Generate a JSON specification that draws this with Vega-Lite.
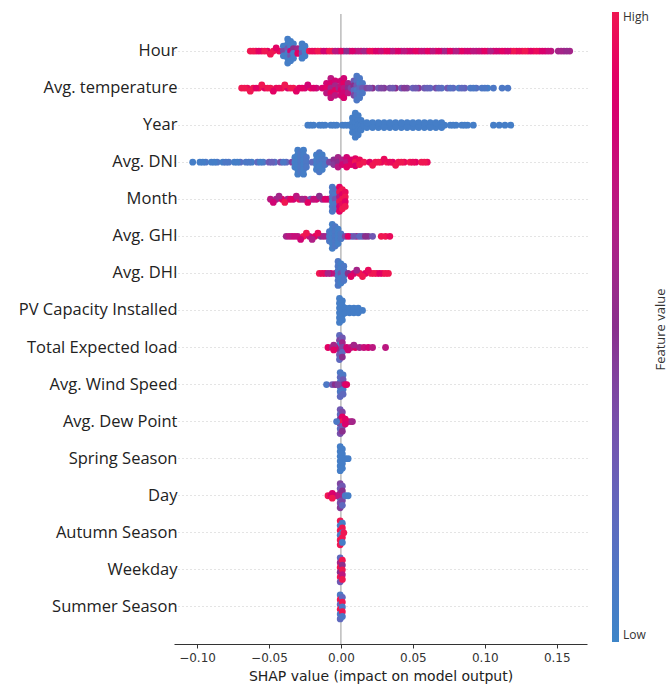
{
"$schema": "https://vega.github.io/schema/vega-lite/v6.json",
"width": 413, "height": 630,
"autosize": {"type": "none"},
"padding": {"left": 174, "top": 14, "right": 84, "bottom": 43},
"background": "white",
"config": {"view": {"stroke": null}},
"resolve": {"scale": {"y": "independent"}, "axis": {"y": "independent"}},
"encoding": {
  "x": {"field": "x", "type": "quantitative",
    "scale": {"domain": [-0.116, 0.171], "nice": false, "zero": false},
    "axis": {"values": [-0.1, -0.05, 0, 0.05, 0.1, 0.15], "format": ".2f", "labelExpr": "replace(datum.label, '-', '−')",
      "title": "SHAP value (impact on model output)", "grid": false, "domainColor": "#333", "tickColor": "#333", "tickSize": 4,
      "labelColor": "#333", "labelFont": "DejaVu Sans", "labelFontSize": 12, "labelPadding": 4,
      "titleFont": "DejaVu Sans", "titleFontSize": 14, "titleFontWeight": "normal", "titleColor": "#222", "titlePadding": 6}}
},
"layer": [
{"data": {"values": [{"x": 0}]}, "mark": {"type": "rule", "color": "#999", "strokeWidth": 1}, "encoding": {}},
{"data": {"values": [
{"f":0,"x":-0.063,"v":1,"s":0},{"f":0,"x":-0.059,"v":0.95,"s":0},{"f":0,"x":-0.055,"v":1,"s":0},{"f":0,"x":-0.051,"v":0.9,"s":0},{"f":0,"x":-0.047,"v":1,"s":0},{"f":0,"x":-0.043,"v":0.95,"s":0},{"f":0,"x":-0.049,"v":1,"s":1.3},{"f":0,"x":-0.045,"v":0.9,"s":-1.3},
{"f":0,"x":-0.061,"v":1,"s":0},{"f":0,"x":-0.057,"v":0.9,"s":0},{"f":0,"x":-0.053,"v":1,"s":0},
{"f":0,"x":-0.040,"v":0.05,"s":-2},{"f":0,"x":-0.040,"v":0.4,"s":0},{"f":0,"x":-0.040,"v":0.05,"s":2},
{"f":0,"x":-0.037,"v":0.05,"s":-5},{"f":0,"x":-0.037,"v":0.05,"s":-3},{"f":0,"x":-0.037,"v":0.3,"s":-1},{"f":0,"x":-0.037,"v":0.05,"s":1},{"f":0,"x":-0.037,"v":0.05,"s":3},{"f":0,"x":-0.037,"v":0.05,"s":5},
{"f":0,"x":-0.035,"v":0.05,"s":-4},{"f":0,"x":-0.035,"v":0.05,"s":-2},{"f":0,"x":-0.035,"v":0.8,"s":0},{"f":0,"x":-0.035,"v":0.3,"s":2},{"f":0,"x":-0.035,"v":0.05,"s":4},
{"f":0,"x":-0.033,"v":0.05,"s":-3},{"f":0,"x":-0.033,"v":0.5,"s":-1},{"f":0,"x":-0.033,"v":0.05,"s":1},{"f":0,"x":-0.033,"v":0.05,"s":3},
{"f":0,"x":-0.030,"v":0.6,"s":-1},{"f":0,"x":-0.030,"v":0.9,"s":1},
{"f":0,"x":-0.027,"v":0.05,"s":-3},{"f":0,"x":-0.027,"v":0.05,"s":-1},{"f":0,"x":-0.027,"v":0.3,"s":1},{"f":0,"x":-0.027,"v":0.05,"s":3},
{"f":0,"x":-0.025,"v":0.05,"s":-2},{"f":0,"x":-0.025,"v":0.05,"s":0},{"f":0,"x":-0.025,"v":0.05,"s":2},
{"f":0,"x":-0.022,"v":1,"s":0},{"f":0,"x":-0.018,"v":0.9,"s":0},{"f":0,"x":-0.014,"v":1,"s":0},{"f":0,"x":-0.010,"v":0.85,"s":0},{"f":0,"x":-0.006,"v":1,"s":0},{"f":0,"x":-0.002,"v":0.6,"s":0},{"f":0,"x":0.002,"v":0.45,"s":0},{"f":0,"x":0.006,"v":0.8,"s":0},{"f":0,"x":0.010,"v":0.55,"s":0},{"f":0,"x":0.014,"v":0.9,"s":0},{"f":0,"x":0.018,"v":0.7,"s":0},{"f":0,"x":0.022,"v":1,"s":0},{"f":0,"x":0.026,"v":0.9,"s":0},{"f":0,"x":0.030,"v":1,"s":0},{"f":0,"x":0.034,"v":0.8,"s":0},{"f":0,"x":0.038,"v":0.95,"s":0},{"f":0,"x":0.042,"v":0.6,"s":0},{"f":0,"x":0.046,"v":0.9,"s":0},{"f":0,"x":0.050,"v":0.65,"s":0},{"f":0,"x":0.054,"v":0.85,"s":0},{"f":0,"x":0.058,"v":0.6,"s":0},{"f":0,"x":0.062,"v":0.8,"s":0},{"f":0,"x":0.066,"v":0.95,"s":0},{"f":0,"x":0.070,"v":0.7,"s":0},{"f":0,"x":0.074,"v":0.85,"s":0},{"f":0,"x":0.078,"v":0.6,"s":0},{"f":0,"x":0.082,"v":0.8,"s":0},{"f":0,"x":0.086,"v":0.7,"s":0},{"f":0,"x":0.090,"v":0.9,"s":0},{"f":0,"x":0.094,"v":0.65,"s":0},{"f":0,"x":0.098,"v":0.85,"s":0},{"f":0,"x":0.102,"v":0.7,"s":0},{"f":0,"x":0.106,"v":0.9,"s":0},{"f":0,"x":0.110,"v":0.65,"s":0},{"f":0,"x":0.114,"v":0.85,"s":0},{"f":0,"x":0.118,"v":0.95,"s":0},{"f":0,"x":0.122,"v":0.9,"s":0},{"f":0,"x":0.126,"v":1,"s":0},{"f":0,"x":0.130,"v":0.95,"s":0},{"f":0,"x":0.134,"v":1,"s":0},{"f":0,"x":0.138,"v":0.9,"s":0},{"f":0,"x":0.142,"v":0.8,"s":0},{"f":0,"x":0.146,"v":0.7,"s":0},{"f":0,"x":0.151,"v":0.6,"s":0},{"f":0,"x":0.155,"v":0.55,"s":0},{"f":0,"x":0.159,"v":0.6,"s":0},
{"f":0,"x":0.000,"v":0.9,"s":0},{"f":0,"x":0.012,"v":0.7,"s":0},{"f":0,"x":0.024,"v":0.85,"s":0},{"f":0,"x":0.036,"v":0.7,"s":0},{"f":0,"x":0.048,"v":0.8,"s":0},{"f":0,"x":0.060,"v":0.9,"s":0},{"f":0,"x":0.072,"v":0.6,"s":0},{"f":0,"x":0.084,"v":0.9,"s":0},{"f":0,"x":0.096,"v":0.75,"s":0},{"f":0,"x":0.108,"v":0.8,"s":0},{"f":0,"x":0.120,"v":1,"s":0},{"f":0,"x":0.132,"v":0.9,"s":0},{"f":0,"x":0.144,"v":0.75,"s":0},
{"f":0,"x":-0.020,"v":0.95,"s":0},{"f":0,"x":-0.016,"v":1,"s":0},{"f":0,"x":-0.012,"v":0.8,"s":0},{"f":0,"x":-0.008,"v":1,"s":0},{"f":0,"x":-0.004,"v":0.7,"s":0},{"f":0,"x":0.004,"v":0.5,"s":0},{"f":0,"x":0.008,"v":0.85,"s":0},{"f":0,"x":0.016,"v":0.6,"s":0},{"f":0,"x":0.020,"v":0.95,"s":0},{"f":0,"x":0.028,"v":0.75,"s":0},{"f":0,"x":0.032,"v":0.9,"s":0},{"f":0,"x":0.040,"v":0.85,"s":0},{"f":0,"x":0.044,"v":0.7,"s":0},{"f":0,"x":0.052,"v":0.9,"s":0},{"f":0,"x":0.056,"v":0.75,"s":0},{"f":0,"x":0.064,"v":0.7,"s":0},{"f":0,"x":0.068,"v":0.85,"s":0},{"f":0,"x":0.076,"v":0.9,"s":0},{"f":0,"x":0.080,"v":0.65,"s":0},{"f":0,"x":0.088,"v":0.8,"s":0},{"f":0,"x":0.092,"v":0.7,"s":0},{"f":0,"x":0.100,"v":0.9,"s":0},{"f":0,"x":0.104,"v":0.65,"s":0},{"f":0,"x":0.112,"v":0.9,"s":0},{"f":0,"x":0.116,"v":0.8,"s":0},{"f":0,"x":0.124,"v":0.95,"s":0},{"f":0,"x":0.128,"v":1,"s":0},{"f":0,"x":0.136,"v":0.95,"s":0},{"f":0,"x":0.140,"v":0.85,"s":0},{"f":0,"x":0.153,"v":0.6,"s":0},{"f":0,"x":0.157,"v":0.55,"s":0},

{"f":1,"x":-0.069,"v":1,"s":0},{"f":1,"x":-0.065,"v":0.95,"s":0},{"f":1,"x":-0.061,"v":1,"s":0},{"f":1,"x":-0.057,"v":1,"s":0},{"f":1,"x":-0.053,"v":0.9,"s":0},{"f":1,"x":-0.049,"v":1,"s":0},{"f":1,"x":-0.045,"v":0.95,"s":0},{"f":1,"x":-0.041,"v":1,"s":0},{"f":1,"x":-0.037,"v":0.85,"s":0},{"f":1,"x":-0.033,"v":1,"s":0},{"f":1,"x":-0.029,"v":0.9,"s":0},{"f":1,"x":-0.025,"v":0.8,"s":0},{"f":1,"x":-0.021,"v":0.95,"s":0},{"f":1,"x":-0.017,"v":0.75,"s":0},{"f":1,"x":-0.013,"v":0.85,"s":0},
{"f":1,"x":-0.063,"v":1,"s":1.3},{"f":1,"x":-0.055,"v":1,"s":-1.3},{"f":1,"x":-0.047,"v":0.9,"s":1.3},{"f":1,"x":-0.039,"v":1,"s":-1.3},{"f":1,"x":-0.031,"v":0.9,"s":1.3},{"f":1,"x":-0.023,"v":0.8,"s":-1.3},
{"f":1,"x":-0.010,"v":0.8,"s":-2},{"f":1,"x":-0.010,"v":0.9,"s":0},{"f":1,"x":-0.010,"v":0.7,"s":2},
{"f":1,"x":-0.007,"v":0.7,"s":-4},{"f":1,"x":-0.007,"v":0.85,"s":-2},{"f":1,"x":-0.007,"v":0.6,"s":0},{"f":1,"x":-0.007,"v":0.9,"s":2},{"f":1,"x":-0.007,"v":0.75,"s":4},
{"f":1,"x":-0.004,"v":0.8,"s":-3},{"f":1,"x":-0.004,"v":0.6,"s":-1},{"f":1,"x":-0.004,"v":0.9,"s":1},{"f":1,"x":-0.004,"v":0.7,"s":3},
{"f":1,"x":-0.0015,"v":0.6,"s":0},
{"f":1,"x":0.000,"v":0.8,"s":-3},{"f":1,"x":0.000,"v":0.75,"s":-1},{"f":1,"x":0.000,"v":0.85,"s":1},{"f":1,"x":0.000,"v":0.8,"s":3},
{"f":1,"x":0.002,"v":0.8,"s":-4},{"f":1,"x":0.002,"v":0.9,"s":-2},{"f":1,"x":0.002,"v":0.7,"s":0},{"f":1,"x":0.002,"v":0.8,"s":2},{"f":1,"x":0.002,"v":0.85,"s":4},
{"f":1,"x":0.005,"v":0.6,"s":-2},{"f":1,"x":0.005,"v":0.5,"s":0},{"f":1,"x":0.005,"v":0.7,"s":2},
{"f":1,"x":0.007,"v":0.4,"s":0},
{"f":1,"x":0.009,"v":0.3,"s":-3},{"f":1,"x":0.009,"v":0.5,"s":-1},{"f":1,"x":0.009,"v":0.2,"s":1},{"f":1,"x":0.009,"v":0.4,"s":3},
{"f":1,"x":0.011,"v":0.1,"s":-5},{"f":1,"x":0.011,"v":0.15,"s":-3},{"f":1,"x":0.011,"v":0.3,"s":-1},{"f":1,"x":0.011,"v":0.1,"s":1},{"f":1,"x":0.011,"v":0.2,"s":3},{"f":1,"x":0.011,"v":0.1,"s":5},
{"f":1,"x":0.013,"v":0.1,"s":-4},{"f":1,"x":0.013,"v":0.05,"s":-2},{"f":1,"x":0.013,"v":0.2,"s":0},{"f":1,"x":0.013,"v":0.1,"s":2},{"f":1,"x":0.013,"v":0.1,"s":4},
{"f":1,"x":0.015,"v":0.1,"s":-2},{"f":1,"x":0.015,"v":0.3,"s":0},{"f":1,"x":0.015,"v":0.1,"s":2},
{"f":1,"x":0.018,"v":0.4,"s":0},{"f":1,"x":0.022,"v":0.5,"s":0},{"f":1,"x":0.026,"v":0.3,"s":0},{"f":1,"x":0.030,"v":0.45,"s":0},{"f":1,"x":0.034,"v":0.35,"s":0},{"f":1,"x":0.038,"v":0.5,"s":0},{"f":1,"x":0.042,"v":0.3,"s":0},{"f":1,"x":0.046,"v":0.4,"s":0},{"f":1,"x":0.050,"v":0.25,"s":0},{"f":1,"x":0.054,"v":0.45,"s":0},{"f":1,"x":0.058,"v":0.3,"s":0},{"f":1,"x":0.062,"v":0.2,"s":0},{"f":1,"x":0.066,"v":0.35,"s":0},{"f":1,"x":0.070,"v":0.15,"s":0},{"f":1,"x":0.074,"v":0.3,"s":0},{"f":1,"x":0.078,"v":0.2,"s":0},{"f":1,"x":0.082,"v":0.1,"s":0},{"f":1,"x":0.086,"v":0.25,"s":0},{"f":1,"x":0.090,"v":0.1,"s":0},{"f":1,"x":0.094,"v":0.15,"s":0},{"f":1,"x":0.098,"v":0.1,"s":0},{"f":1,"x":0.102,"v":0.05,"s":0},{"f":1,"x":0.106,"v":0.1,"s":0},{"f":1,"x":0.112,"v":0.1,"s":0},{"f":1,"x":0.116,"v":0.1,"s":0},
{"f":1,"x":-0.067,"v":1,"s":0},{"f":1,"x":-0.059,"v":0.9,"s":0},{"f":1,"x":-0.051,"v":1,"s":0},{"f":1,"x":-0.043,"v":0.95,"s":0},{"f":1,"x":-0.035,"v":1,"s":0},{"f":1,"x":-0.027,"v":0.9,"s":0},{"f":1,"x":-0.019,"v":0.85,"s":0},{"f":1,"x":0.020,"v":0.35,"s":0},{"f":1,"x":0.028,"v":0.4,"s":0},{"f":1,"x":0.036,"v":0.3,"s":0},{"f":1,"x":0.044,"v":0.45,"s":0},{"f":1,"x":0.052,"v":0.3,"s":0},{"f":1,"x":0.060,"v":0.25,"s":0},{"f":1,"x":0.068,"v":0.2,"s":0},{"f":1,"x":0.076,"v":0.15,"s":0},{"f":1,"x":0.084,"v":0.2,"s":0},{"f":1,"x":0.092,"v":0.1,"s":0},{"f":1,"x":0.100,"v":0.1,"s":0},

{"f":2,"x":-0.023,"v":0.05,"s":0},{"f":2,"x":-0.019,"v":0.05,"s":0},{"f":2,"x":-0.015,"v":0.05,"s":0},{"f":2,"x":-0.011,"v":0.05,"s":0},{"f":2,"x":-0.007,"v":0.05,"s":0},{"f":2,"x":-0.003,"v":0.05,"s":0},{"f":2,"x":0.001,"v":0.05,"s":0},{"f":2,"x":0.005,"v":0.05,"s":0},
{"f":2,"x":0.008,"v":0.05,"s":-3},{"f":2,"x":0.008,"v":0.05,"s":-1},{"f":2,"x":0.008,"v":0.05,"s":1},{"f":2,"x":0.008,"v":0.05,"s":3},
{"f":2,"x":0.010,"v":0.05,"s":-5},{"f":2,"x":0.010,"v":0.05,"s":-3},{"f":2,"x":0.010,"v":0.05,"s":-1},{"f":2,"x":0.010,"v":0.05,"s":1},{"f":2,"x":0.010,"v":0.05,"s":3},{"f":2,"x":0.010,"v":0.05,"s":5},
{"f":2,"x":0.012,"v":0.05,"s":-4},{"f":2,"x":0.012,"v":0.05,"s":-2},{"f":2,"x":0.012,"v":0.05,"s":0},{"f":2,"x":0.012,"v":0.05,"s":2},{"f":2,"x":0.012,"v":0.05,"s":4},
{"f":2,"x":0.014,"v":0.05,"s":-2},{"f":2,"x":0.014,"v":0.05,"s":0},{"f":2,"x":0.014,"v":0.05,"s":2},
{"f":2,"x":0.016,"v":0.05,"s":0},{"f":2,"x":0.020,"v":0.05,"s":0},{"f":2,"x":0.024,"v":0.05,"s":0},{"f":2,"x":0.028,"v":0.05,"s":0},{"f":2,"x":0.032,"v":0.05,"s":0},{"f":2,"x":0.036,"v":0.05,"s":0},{"f":2,"x":0.040,"v":0.05,"s":0},{"f":2,"x":0.044,"v":0.05,"s":0},{"f":2,"x":0.048,"v":0.05,"s":0},{"f":2,"x":0.052,"v":0.05,"s":0},{"f":2,"x":0.056,"v":0.05,"s":0},{"f":2,"x":0.060,"v":0.05,"s":0},{"f":2,"x":0.064,"v":0.05,"s":0},{"f":2,"x":0.068,"v":0.05,"s":0},{"f":2,"x":0.072,"v":0.05,"s":0},
{"f":2,"x":0.018,"v":0.05,"s":1},{"f":2,"x":0.022,"v":0.05,"s":-1},{"f":2,"x":0.026,"v":0.05,"s":1},{"f":2,"x":0.030,"v":0.05,"s":-1},{"f":2,"x":0.034,"v":0.05,"s":1},{"f":2,"x":0.038,"v":0.05,"s":-1},{"f":2,"x":0.042,"v":0.05,"s":1},{"f":2,"x":0.046,"v":0.05,"s":-1},{"f":2,"x":0.050,"v":0.05,"s":1},{"f":2,"x":0.054,"v":0.05,"s":-1},{"f":2,"x":0.058,"v":0.05,"s":1},{"f":2,"x":0.062,"v":0.05,"s":-1},{"f":2,"x":0.066,"v":0.05,"s":1},{"f":2,"x":0.070,"v":0.05,"s":-1},
{"f":2,"x":0.018,"v":0.05,"s":-1},{"f":2,"x":0.026,"v":0.05,"s":-1},{"f":2,"x":0.034,"v":0.05,"s":-1},{"f":2,"x":0.042,"v":0.05,"s":-1},{"f":2,"x":0.050,"v":0.05,"s":-1},{"f":2,"x":0.058,"v":0.05,"s":-1},{"f":2,"x":0.066,"v":0.05,"s":-1},{"f":2,"x":0.022,"v":0.05,"s":1},{"f":2,"x":0.030,"v":0.05,"s":1},{"f":2,"x":0.038,"v":0.05,"s":1},{"f":2,"x":0.046,"v":0.05,"s":1},{"f":2,"x":0.054,"v":0.05,"s":1},{"f":2,"x":0.062,"v":0.05,"s":1},{"f":2,"x":0.070,"v":0.05,"s":1},
{"f":2,"x":0.076,"v":0.05,"s":0},{"f":2,"x":0.080,"v":0.05,"s":0},{"f":2,"x":0.084,"v":0.05,"s":0},{"f":2,"x":0.088,"v":0.05,"s":0},{"f":2,"x":0.092,"v":0.05,"s":0},{"f":2,"x":0.078,"v":0.05,"s":0},{"f":2,"x":0.086,"v":0.05,"s":0},{"f":2,"x":-0.021,"v":0.05,"s":0},{"f":2,"x":-0.013,"v":0.05,"s":0},{"f":2,"x":-0.005,"v":0.05,"s":0},{"f":2,"x":0.003,"v":0.05,"s":0},
{"f":2,"x":0.106,"v":0.05,"s":0},{"f":2,"x":0.110,"v":0.05,"s":0},{"f":2,"x":0.114,"v":0.05,"s":0},{"f":2,"x":0.118,"v":0.05,"s":0},

{"f":3,"x":-0.103,"v":0.05,"s":0},
{"f":3,"x":-0.098,"v":0.05,"s":0},{"f":3,"x":-0.094,"v":0.1,"s":0},{"f":3,"x":-0.090,"v":0.05,"s":0},{"f":3,"x":-0.086,"v":0.1,"s":0},{"f":3,"x":-0.082,"v":0.05,"s":0},{"f":3,"x":-0.078,"v":0.1,"s":0},{"f":3,"x":-0.074,"v":0.05,"s":0},{"f":3,"x":-0.070,"v":0.15,"s":0},{"f":3,"x":-0.066,"v":0.1,"s":0},{"f":3,"x":-0.062,"v":0.05,"s":0},{"f":3,"x":-0.058,"v":0.2,"s":0},{"f":3,"x":-0.054,"v":0.1,"s":0},{"f":3,"x":-0.050,"v":0.3,"s":0},{"f":3,"x":-0.046,"v":0.15,"s":0},{"f":3,"x":-0.042,"v":0.35,"s":0},{"f":3,"x":-0.038,"v":0.2,"s":0},{"f":3,"x":-0.034,"v":0.4,"s":0},
{"f":3,"x":-0.096,"v":0.05,"s":0},{"f":3,"x":-0.088,"v":0.05,"s":0},{"f":3,"x":-0.080,"v":0.1,"s":0},{"f":3,"x":-0.072,"v":0.05,"s":0},{"f":3,"x":-0.064,"v":0.1,"s":0},{"f":3,"x":-0.056,"v":0.05,"s":0},{"f":3,"x":-0.048,"v":0.25,"s":0},{"f":3,"x":-0.040,"v":0.1,"s":0},
{"f":3,"x":-0.032,"v":0.05,"s":-2},{"f":3,"x":-0.032,"v":0.05,"s":0},{"f":3,"x":-0.032,"v":0.05,"s":2},
{"f":3,"x":-0.030,"v":0.05,"s":-5},{"f":3,"x":-0.030,"v":0.05,"s":-3},{"f":3,"x":-0.030,"v":0.05,"s":-1},{"f":3,"x":-0.030,"v":0.05,"s":1},{"f":3,"x":-0.030,"v":0.05,"s":3},{"f":3,"x":-0.030,"v":0.05,"s":5},
{"f":3,"x":-0.028,"v":0.1,"s":-4},{"f":3,"x":-0.028,"v":0.1,"s":-2},{"f":3,"x":-0.028,"v":0.1,"s":0},{"f":3,"x":-0.028,"v":0.1,"s":2},{"f":3,"x":-0.028,"v":0.1,"s":4},
{"f":3,"x":-0.026,"v":0.05,"s":-5},{"f":3,"x":-0.026,"v":0.05,"s":-3},{"f":3,"x":-0.026,"v":0.05,"s":-1},{"f":3,"x":-0.026,"v":0.05,"s":1},{"f":3,"x":-0.026,"v":0.05,"s":3},{"f":3,"x":-0.026,"v":0.05,"s":5},
{"f":3,"x":-0.024,"v":0.1,"s":-2},{"f":3,"x":-0.024,"v":0.1,"s":0},{"f":3,"x":-0.024,"v":0.1,"s":2},
{"f":3,"x":-0.020,"v":0.2,"s":0},
{"f":3,"x":-0.017,"v":0.05,"s":-3},{"f":3,"x":-0.017,"v":0.05,"s":-1},{"f":3,"x":-0.017,"v":0.05,"s":1},{"f":3,"x":-0.017,"v":0.05,"s":3},
{"f":3,"x":-0.015,"v":0.1,"s":-4},{"f":3,"x":-0.015,"v":0.05,"s":-2},{"f":3,"x":-0.015,"v":0.1,"s":0},{"f":3,"x":-0.015,"v":0.05,"s":2},{"f":3,"x":-0.015,"v":0.1,"s":4},
{"f":3,"x":-0.013,"v":0.05,"s":-3},{"f":3,"x":-0.013,"v":0.1,"s":-1},{"f":3,"x":-0.013,"v":0.05,"s":1},{"f":3,"x":-0.013,"v":0.05,"s":3},
{"f":3,"x":-0.011,"v":0.1,"s":-1},{"f":3,"x":-0.011,"v":0.1,"s":1},
{"f":3,"x":-0.008,"v":0.4,"s":0},
{"f":3,"x":-0.005,"v":0.5,"s":-1},{"f":3,"x":-0.005,"v":0.45,"s":1},
{"f":3,"x":-0.002,"v":0.6,"s":-2},{"f":3,"x":-0.002,"v":0.5,"s":0},{"f":3,"x":-0.002,"v":0.7,"s":2},
{"f":3,"x":0.001,"v":0.65,"s":-1},{"f":3,"x":0.001,"v":0.8,"s":1},
{"f":3,"x":0.004,"v":0.8,"s":-2},{"f":3,"x":0.004,"v":0.7,"s":0},{"f":3,"x":0.004,"v":0.9,"s":2},
{"f":3,"x":0.007,"v":0.85,"s":-1},{"f":3,"x":0.007,"v":0.9,"s":1},
{"f":3,"x":0.010,"v":0.9,"s":-1.5},{"f":3,"x":0.010,"v":1,"s":0},{"f":3,"x":0.010,"v":0.85,"s":1.5},
{"f":3,"x":0.013,"v":0.95,"s":-1},{"f":3,"x":0.013,"v":1,"s":1},
{"f":3,"x":0.016,"v":1,"s":0},
{"f":3,"x":0.020,"v":0.9,"s":0},{"f":3,"x":0.024,"v":1,"s":0},{"f":3,"x":0.028,"v":0.95,"s":0},{"f":3,"x":0.032,"v":1,"s":0},{"f":3,"x":0.036,"v":0.9,"s":0},{"f":3,"x":0.040,"v":1,"s":0},{"f":3,"x":0.044,"v":0.95,"s":0},{"f":3,"x":0.048,"v":1,"s":0},{"f":3,"x":0.052,"v":0.9,"s":0},{"f":3,"x":0.056,"v":1,"s":0},{"f":3,"x":0.060,"v":0.95,"s":0},
{"f":3,"x":0.022,"v":1,"s":1.3},{"f":3,"x":0.030,"v":0.95,"s":-1.3},{"f":3,"x":0.038,"v":1,"s":1.3},{"f":3,"x":0.026,"v":1,"s":0},{"f":3,"x":0.034,"v":0.95,"s":0},{"f":3,"x":0.042,"v":1,"s":0},{"f":3,"x":0.050,"v":0.95,"s":0},{"f":3,"x":0.058,"v":1,"s":0},

{"f":4,"x":-0.049,"v":0.7,"s":0},{"f":4,"x":-0.045,"v":0.6,"s":0},{"f":4,"x":-0.041,"v":0.9,"s":0},{"f":4,"x":-0.037,"v":0.65,"s":0},{"f":4,"x":-0.033,"v":0.8,"s":0},{"f":4,"x":-0.029,"v":0.95,"s":0},{"f":4,"x":-0.025,"v":0.7,"s":0},{"f":4,"x":-0.021,"v":0.3,"s":0},{"f":4,"x":-0.017,"v":0.8,"s":0},{"f":4,"x":-0.013,"v":0.6,"s":0},{"f":4,"x":-0.009,"v":0.75,"s":0},
{"f":4,"x":-0.047,"v":0.8,"s":1.3},{"f":4,"x":-0.043,"v":0.6,"s":-1.3},{"f":4,"x":-0.039,"v":1,"s":1.3},{"f":4,"x":-0.031,"v":0.7,"s":-1.3},{"f":4,"x":-0.023,"v":0.9,"s":1.3},{"f":4,"x":-0.015,"v":0.5,"s":-1.3},
{"f":4,"x":-0.035,"v":0.9,"s":0},{"f":4,"x":-0.027,"v":0.6,"s":0},{"f":4,"x":-0.019,"v":0.75,"s":0},{"f":4,"x":-0.011,"v":0.85,"s":0},
{"f":4,"x":-0.006,"v":0.1,"s":-5},{"f":4,"x":-0.006,"v":0.1,"s":-3},{"f":4,"x":-0.006,"v":0.15,"s":-1},{"f":4,"x":-0.006,"v":0.05,"s":1},{"f":4,"x":-0.006,"v":0.1,"s":3},{"f":4,"x":-0.006,"v":0.1,"s":5},
{"f":4,"x":-0.004,"v":0.15,"s":-4},{"f":4,"x":-0.004,"v":0.1,"s":-2},{"f":4,"x":-0.004,"v":0.3,"s":0},{"f":4,"x":-0.004,"v":0.1,"s":2},{"f":4,"x":-0.004,"v":0.15,"s":4},
{"f":4,"x":-0.001,"v":0.9,"s":-5},{"f":4,"x":-0.001,"v":1,"s":-3},{"f":4,"x":-0.001,"v":0.7,"s":-1},{"f":4,"x":-0.001,"v":1,"s":1},{"f":4,"x":-0.001,"v":0.8,"s":3},{"f":4,"x":-0.001,"v":0.9,"s":5},
{"f":4,"x":0.001,"v":1,"s":-4},{"f":4,"x":0.001,"v":0.9,"s":-2},{"f":4,"x":0.001,"v":1,"s":0},{"f":4,"x":0.001,"v":0.95,"s":2},{"f":4,"x":0.001,"v":1,"s":4},
{"f":4,"x":0.003,"v":0.95,"s":-3},{"f":4,"x":0.003,"v":1,"s":-1},{"f":4,"x":0.003,"v":0.9,"s":1},{"f":4,"x":0.003,"v":1,"s":3},

{"f":5,"x":-0.038,"v":0.6,"s":0},{"f":5,"x":-0.034,"v":0.8,"s":0},{"f":5,"x":-0.030,"v":0.7,"s":0},{"f":5,"x":-0.026,"v":1,"s":0},{"f":5,"x":-0.022,"v":0.75,"s":0},{"f":5,"x":-0.018,"v":0.9,"s":0},{"f":5,"x":-0.014,"v":0.5,"s":0},{"f":5,"x":-0.010,"v":0.4,"s":0},
{"f":5,"x":-0.028,"v":0.8,"s":1.3},{"f":5,"x":-0.024,"v":1,"s":-1.3},{"f":5,"x":-0.020,"v":0.65,"s":1.3},{"f":5,"x":-0.016,"v":0.95,"s":-1.3},{"f":5,"x":-0.036,"v":0.7,"s":0},{"f":5,"x":-0.032,"v":0.75,"s":0},{"f":5,"x":-0.012,"v":0.6,"s":0},
{"f":5,"x":-0.008,"v":0.1,"s":-2},{"f":5,"x":-0.008,"v":0.1,"s":0},{"f":5,"x":-0.008,"v":0.1,"s":2},
{"f":5,"x":-0.006,"v":0.05,"s":-5},{"f":5,"x":-0.006,"v":0.05,"s":-3},{"f":5,"x":-0.006,"v":0.05,"s":-1},{"f":5,"x":-0.006,"v":0.05,"s":1},{"f":5,"x":-0.006,"v":0.05,"s":3},{"f":5,"x":-0.006,"v":0.05,"s":5},
{"f":5,"x":-0.004,"v":0.1,"s":-4},{"f":5,"x":-0.004,"v":0.1,"s":-2},{"f":5,"x":-0.004,"v":0.1,"s":0},{"f":5,"x":-0.004,"v":0.1,"s":2},{"f":5,"x":-0.004,"v":0.1,"s":4},
{"f":5,"x":-0.002,"v":0.05,"s":-3},{"f":5,"x":-0.002,"v":0.05,"s":-1},{"f":5,"x":-0.002,"v":0.05,"s":1},{"f":5,"x":-0.002,"v":0.05,"s":3},
{"f":5,"x":0.000,"v":0.1,"s":-1},{"f":5,"x":0.000,"v":0.1,"s":1},
{"f":5,"x":0.003,"v":0.4,"s":0},{"f":5,"x":0.007,"v":0.2,"s":0},{"f":5,"x":0.011,"v":0.6,"s":0},{"f":5,"x":0.015,"v":0.3,"s":0},{"f":5,"x":0.019,"v":0.45,"s":0},{"f":5,"x":0.022,"v":0.3,"s":0},{"f":5,"x":0.005,"v":0.9,"s":0},{"f":5,"x":0.009,"v":0.3,"s":0},{"f":5,"x":0.013,"v":0.2,"s":0},{"f":5,"x":0.017,"v":0.5,"s":0},
{"f":5,"x":0.028,"v":1,"s":0},{"f":5,"x":0.031,"v":1,"s":0},{"f":5,"x":0.034,"v":0.95,"s":0},

{"f":6,"x":-0.015,"v":1,"s":0},{"f":6,"x":-0.011,"v":0.9,"s":0},{"f":6,"x":-0.007,"v":0.8,"s":0},{"f":6,"x":-0.004,"v":0.7,"s":0},{"f":6,"x":-0.013,"v":0.95,"s":0},{"f":6,"x":-0.009,"v":0.6,"s":0},
{"f":6,"x":-0.002,"v":0.1,"s":-5},{"f":6,"x":-0.002,"v":0.1,"s":-3},{"f":6,"x":-0.002,"v":0.1,"s":-1},{"f":6,"x":-0.002,"v":0.1,"s":1},{"f":6,"x":-0.002,"v":0.1,"s":3},{"f":6,"x":-0.002,"v":0.1,"s":5},
{"f":6,"x":0.000,"v":0.05,"s":-4},{"f":6,"x":0.000,"v":0.05,"s":-2},{"f":6,"x":0.000,"v":0.3,"s":0},{"f":6,"x":0.000,"v":0.05,"s":2},{"f":6,"x":0.000,"v":0.05,"s":4},
{"f":6,"x":0.002,"v":0.1,"s":-3},{"f":6,"x":0.002,"v":0.1,"s":-1},{"f":6,"x":0.002,"v":0.1,"s":1},{"f":6,"x":0.002,"v":0.1,"s":3},
{"f":6,"x":0.005,"v":0.5,"s":0},{"f":6,"x":0.009,"v":0.8,"s":0},{"f":6,"x":0.013,"v":1,"s":0},{"f":6,"x":0.017,"v":0.9,"s":0},{"f":6,"x":0.021,"v":1,"s":0},{"f":6,"x":0.025,"v":0.95,"s":0},{"f":6,"x":0.029,"v":1,"s":0},{"f":6,"x":0.033,"v":1,"s":0},{"f":6,"x":0.023,"v":1,"s":0},{"f":6,"x":0.027,"v":0.9,"s":0},{"f":6,"x":0.031,"v":1,"s":0},
{"f":6,"x":0.007,"v":0.9,"s":1.3},{"f":6,"x":0.011,"v":0.6,"s":-1.3},{"f":6,"x":0.015,"v":1,"s":1.3},{"f":6,"x":0.019,"v":0.95,"s":-1.3},

{"f":7,"x":-0.001,"v":0.05,"s":-5},{"f":7,"x":-0.001,"v":0.05,"s":-3},{"f":7,"x":-0.001,"v":0.05,"s":-1},{"f":7,"x":-0.001,"v":0.05,"s":1},{"f":7,"x":-0.001,"v":0.05,"s":3},{"f":7,"x":-0.001,"v":0.05,"s":5},
{"f":7,"x":0.001,"v":0.05,"s":-4},{"f":7,"x":0.001,"v":0.05,"s":-2},{"f":7,"x":0.001,"v":0.05,"s":0},{"f":7,"x":0.001,"v":0.05,"s":2},{"f":7,"x":0.001,"v":0.05,"s":4},
{"f":7,"x":0.003,"v":0.05,"s":-1},{"f":7,"x":0.003,"v":0.05,"s":1},{"f":7,"x":0.006,"v":0.05,"s":-1},{"f":7,"x":0.006,"v":0.05,"s":1},{"f":7,"x":0.009,"v":0.05,"s":-1},{"f":7,"x":0.009,"v":0.05,"s":1},{"f":7,"x":0.012,"v":0.05,"s":-1},{"f":7,"x":0.012,"v":0.05,"s":1},{"f":7,"x":0.015,"v":0.05,"s":0},

{"f":8,"x":-0.001,"v":0.2,"s":-5},{"f":8,"x":-0.001,"v":0.4,"s":-3},{"f":8,"x":-0.001,"v":0.1,"s":-1},{"f":8,"x":-0.001,"v":0.5,"s":1},{"f":8,"x":-0.001,"v":0.3,"s":3},{"f":8,"x":-0.001,"v":0.2,"s":5},
{"f":8,"x":0.001,"v":0.3,"s":-4},{"f":8,"x":0.001,"v":0.6,"s":-2},{"f":8,"x":0.001,"v":0.4,"s":0},{"f":8,"x":0.001,"v":0.2,"s":2},{"f":8,"x":0.001,"v":0.5,"s":4},
{"f":8,"x":-0.009,"v":0.9,"s":0},{"f":8,"x":-0.006,"v":0.7,"s":0},{"f":8,"x":-0.004,"v":0.8,"s":0},{"f":8,"x":-0.005,"v":0.6,"s":-1},{"f":8,"x":-0.005,"v":0.9,"s":1},
{"f":8,"x":0.004,"v":0.8,"s":0},{"f":8,"x":0.007,"v":0.7,"s":0},{"f":8,"x":0.010,"v":0.9,"s":0},{"f":8,"x":0.013,"v":0.6,"s":0},{"f":8,"x":0.016,"v":0.75,"s":0},{"f":8,"x":0.019,"v":0.8,"s":0},{"f":8,"x":0.022,"v":0.7,"s":0},
{"f":8,"x":0.005,"v":0.8,"s":1},{"f":8,"x":0.009,"v":0.6,"s":-1},{"f":8,"x":0.031,"v":0.7,"s":0},

{"f":9,"x":-0.0005,"v":0.1,"s":-5},{"f":9,"x":-0.0005,"v":0.2,"s":-3},{"f":9,"x":-0.0005,"v":0.1,"s":-1},{"f":9,"x":-0.0005,"v":0.15,"s":1},{"f":9,"x":-0.0005,"v":0.1,"s":3},{"f":9,"x":-0.0005,"v":0.2,"s":5},
{"f":9,"x":0.0015,"v":0.1,"s":-4},{"f":9,"x":0.0015,"v":0.3,"s":-2},{"f":9,"x":0.0015,"v":0.5,"s":0},{"f":9,"x":0.0015,"v":0.1,"s":2},{"f":9,"x":0.0015,"v":0.2,"s":4},
{"f":9,"x":-0.010,"v":0.1,"s":0},{"f":9,"x":-0.006,"v":0.3,"s":0},{"f":9,"x":-0.004,"v":0.5,"s":0},{"f":9,"x":-0.002,"v":0.4,"s":0},{"f":9,"x":0.003,"v":0.8,"s":0},{"f":9,"x":0.004,"v":0.9,"s":0},

{"f":10,"x":-0.0005,"v":0.3,"s":-5},{"f":10,"x":-0.0005,"v":0.2,"s":-3},{"f":10,"x":-0.0005,"v":0.5,"s":-1},{"f":10,"x":-0.0005,"v":0.4,"s":1},{"f":10,"x":-0.0005,"v":0.2,"s":3},{"f":10,"x":-0.0005,"v":0.35,"s":5},
{"f":10,"x":0.001,"v":0.4,"s":-4},{"f":10,"x":0.001,"v":0.9,"s":-2},{"f":10,"x":0.001,"v":1,"s":0},{"f":10,"x":0.001,"v":0.3,"s":2},{"f":10,"x":0.001,"v":0.5,"s":4},
{"f":10,"x":-0.003,"v":0.1,"s":0},{"f":10,"x":0.003,"v":1,"s":0},{"f":10,"x":0.005,"v":0.8,"s":0},{"f":10,"x":0.007,"v":0.7,"s":0},{"f":10,"x":0.008,"v":0.6,"s":0},{"f":10,"x":0.003,"v":0.9,"s":-1},{"f":10,"x":0.003,"v":0.85,"s":1},

{"f":11,"x":-0.0005,"v":0.05,"s":-5},{"f":11,"x":-0.0005,"v":0.05,"s":-3},{"f":11,"x":-0.0005,"v":0.05,"s":-1},{"f":11,"x":-0.0005,"v":0.05,"s":1},{"f":11,"x":-0.0005,"v":0.05,"s":3},{"f":11,"x":-0.0005,"v":0.05,"s":5},
{"f":11,"x":0.001,"v":0.05,"s":-4},{"f":11,"x":0.001,"v":0.05,"s":-2},{"f":11,"x":0.001,"v":0.05,"s":0},{"f":11,"x":0.001,"v":0.05,"s":2},{"f":11,"x":0.001,"v":0.05,"s":4},
{"f":11,"x":0.003,"v":0.05,"s":0},{"f":11,"x":0.005,"v":0.05,"s":0},

{"f":12,"x":-0.0005,"v":0.4,"s":-5},{"f":12,"x":-0.0005,"v":0.3,"s":-3},{"f":12,"x":-0.0005,"v":0.5,"s":-1},{"f":12,"x":-0.0005,"v":0.2,"s":1},{"f":12,"x":-0.0005,"v":0.35,"s":3},{"f":12,"x":-0.0005,"v":0.45,"s":5},
{"f":12,"x":0.001,"v":0.3,"s":-4},{"f":12,"x":0.001,"v":0.5,"s":-2},{"f":12,"x":0.001,"v":0.6,"s":0},{"f":12,"x":0.001,"v":0.4,"s":2},{"f":12,"x":0.001,"v":0.2,"s":4},
{"f":12,"x":-0.009,"v":1,"s":0},{"f":12,"x":-0.007,"v":0.9,"s":0},{"f":12,"x":-0.005,"v":0.8,"s":0},{"f":12,"x":-0.003,"v":0.7,"s":0},{"f":12,"x":-0.006,"v":0.85,"s":-1},{"f":12,"x":-0.006,"v":1,"s":1},
{"f":12,"x":0.003,"v":0.1,"s":0},{"f":12,"x":0.005,"v":0.05,"s":0},

{"f":13,"x":-0.0005,"v":1,"s":-5},{"f":13,"x":-0.0005,"v":0.1,"s":-3},{"f":13,"x":-0.0005,"v":1,"s":-1},{"f":13,"x":-0.0005,"v":0.1,"s":1},{"f":13,"x":-0.0005,"v":1,"s":3},{"f":13,"x":-0.0005,"v":1,"s":5},
{"f":13,"x":0.001,"v":0.05,"s":-4},{"f":13,"x":0.001,"v":1,"s":-2},{"f":13,"x":0.001,"v":0.1,"s":0},{"f":13,"x":0.001,"v":1,"s":2},{"f":13,"x":0.001,"v":0.05,"s":4},{"f":13,"x":0.002,"v":1,"s":0},

{"f":14,"x":-0.0005,"v":0.2,"s":-5},{"f":14,"x":-0.0005,"v":0.6,"s":-3},{"f":14,"x":-0.0005,"v":1,"s":-1},{"f":14,"x":-0.0005,"v":0.5,"s":1},{"f":14,"x":-0.0005,"v":1,"s":3},{"f":14,"x":-0.0005,"v":0.3,"s":5},
{"f":14,"x":0.001,"v":1,"s":-4},{"f":14,"x":0.001,"v":0.5,"s":-2},{"f":14,"x":0.001,"v":1,"s":0},{"f":14,"x":0.001,"v":0.7,"s":2},{"f":14,"x":0.001,"v":1,"s":4},

{"f":15,"x":-0.0005,"v":0.1,"s":-5},{"f":15,"x":-0.0005,"v":1,"s":-3},{"f":15,"x":-0.0005,"v":0.2,"s":-1},{"f":15,"x":-0.0005,"v":1,"s":1},{"f":15,"x":-0.0005,"v":0.1,"s":3},{"f":15,"x":-0.0005,"v":0.2,"s":5},
{"f":15,"x":0.001,"v":0.2,"s":-4},{"f":15,"x":0.001,"v":1,"s":-2},{"f":15,"x":0.001,"v":0.1,"s":0},{"f":15,"x":0.001,"v":1,"s":2},{"f":15,"x":0.001,"v":0.1,"s":4}
]},
"mark": {"type": "circle", "size": 46, "opacity": 1},
"encoding": {
  "y": {"field": "f", "type": "ordinal",
    "scale": {"type": "band", "paddingInner": 0, "paddingOuter": 0.5},
    "axis": {"labelExpr": "['Hour','Avg. temperature','Year','Avg. DNI','Month','Avg. GHI','Avg. DHI','PV Capacity Installed','Total Expected load','Avg. Wind Speed','Avg. Dew Point','Spring Season','Day','Autumn Season','Weekday','Summer Season'][datum.value]",
      "title": null, "domain": false, "ticks": false, "grid": true, "bandPosition": 0.5, "gridDash": [1, 3], "gridColor": "#c8c8c8",
      "labelFont": "Open Sans", "labelFontSize": 16.5, "labelColor": "#222", "labelPadding": -3}},
  "yOffset": {"field": "s", "type": "quantitative", "scale": {"domain": [-5, 5], "range": [6.5, 30.5]}},
  "color": {"field": "v", "type": "quantitative",
    "scale": {"domain": [0, 1], "range": ["#3d85c8", "#8a2f8d", "#ef1752"]},
    "legend": {"title": null, "orient": "none", "legendX": 438, "legendY": -2, "direction": "vertical",
      "gradientLength": 630, "gradientThickness": 7, "gradientStrokeWidth": 0, "values": [0, 1],
      "labelExpr": "datum.value >= 0.5 ? 'High' : 'Low'", "labelFont": "Open Sans", "labelFontSize": 12, "labelColor": "#333", "labelOffset": 4}}
}},
{"data": {"values": [{"x": 0, "k": 0}, {"x": 0, "k": 1}]},
 "mark": {"type": "point", "opacity": 0},
 "encoding": {
   "y": {"field": "k", "type": "quantitative",
     "axis": {"orient": "right", "title": "Feature value", "titleAngle": 270, "labels": false, "ticks": false, "domain": false, "grid": false,
       "titlePadding": 80, "titleFont": "Open Sans", "titleFontSize": 13, "titleFontWeight": "normal", "titleColor": "#333"}}}}
]
}
